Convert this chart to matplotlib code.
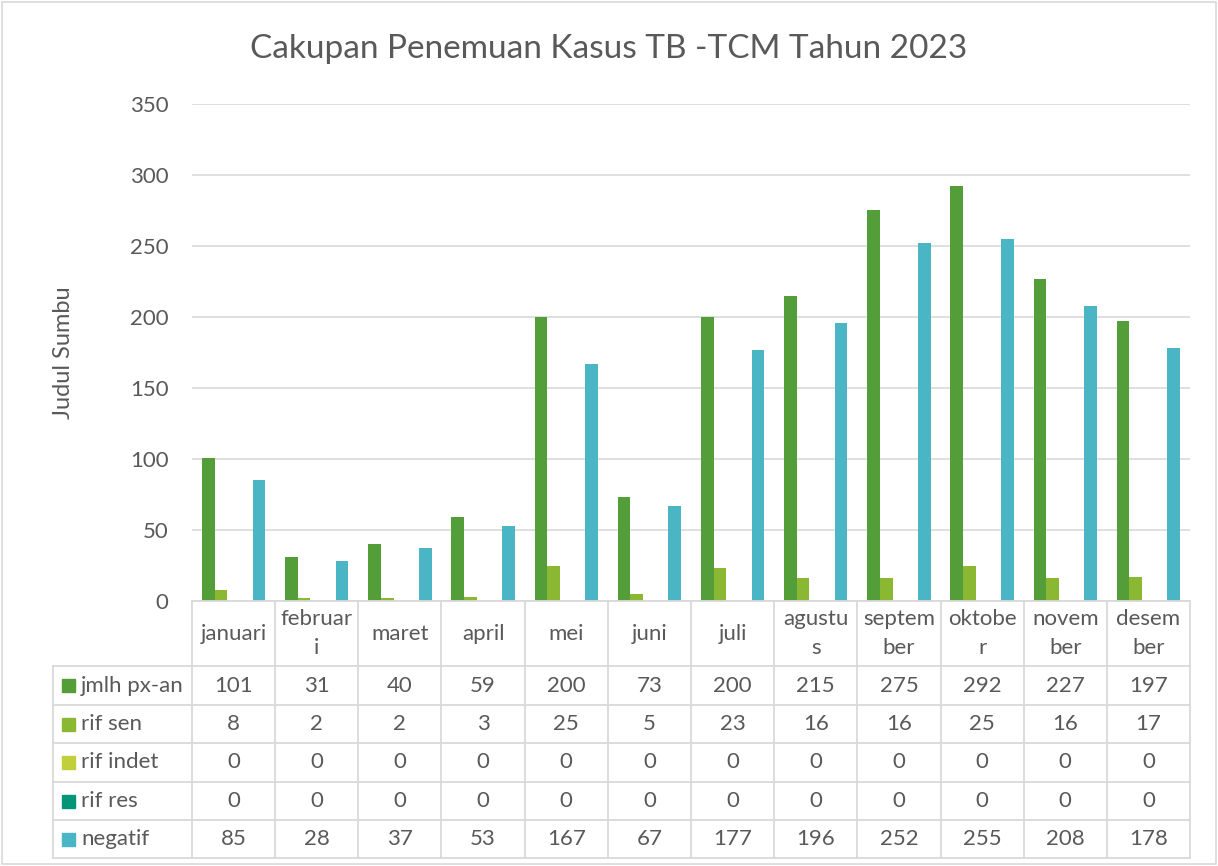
import numpy as np
import matplotlib.pyplot as plt
from matplotlib.patches import Rectangle
from matplotlib.lines import Line2D

months = ["januari", "februar\ni", "maret", "april", "mei", "juni", "juli",
          "agustu\ns", "septem\nber", "oktobe\nr", "novem\nber", "desem\nber"]
series_names = ["jmlh px-an", "rif sen", "rif indet", "rif res", "negatif"]
jmlh_px_an = [101, 31, 40, 59, 200, 73, 200, 215, 275, 292, 227, 197]
rif_sen = [8, 2, 2, 3, 25, 5, 23, 16, 16, 25, 16, 17]
rif_indet = [0] * 12
rif_res = [0] * 12
negatif = [85, 28, 37, 53, 167, 67, 177, 196, 252, 255, 208, 178]
colors = ["#549E39", "#8AB833", "#C0CF3A", "#029676", "#4AB5C4"]

W, H = 1218, 866
TXT = "#595959"
GRID = "#D9D9D9"
FS = 16
plt.rcParams["font.family"] = ["Lato", "DejaVu Sans"]

fig = plt.figure(figsize=(W / 100, H / 100), dpi=100)


def fx(px):
    return px / W


def fy(py):
    return 1 - py / H


# plot area in pixels
L, R, T, B = 192, 1190, 104, 601
ax = fig.add_axes([fx(L), fy(B), fx(R) - fx(L), fy(T) - fy(B)])

data = [jmlh_px_an, rif_sen, rif_indet, rif_res, negatif]
x = np.arange(len(months))
bw = 0.152
for i, (vals, c) in enumerate(zip(data, colors)):
    ax.bar(x + (i - 2) * bw, vals, width=bw, color=c, zorder=3)

ax.set_xlim(-0.5, len(months) - 0.5)
ax.set_ylim(0, 350)
ax.set_yticks(range(0, 351, 50))
ax.tick_params(axis="y", length=0, labelsize=FS, labelcolor=TXT, pad=17)
ax.set_xticks([])
ax.grid(axis="y", color=GRID, linewidth=1.2, zorder=0)
for s in ax.spines.values():
    s.set_visible(False)
ax.set_ylabel("Judul Sumbu", fontsize=17, color=TXT, labelpad=40)

fig.text(0.5, fy(49), "Cakupan Penemuan Kasus TB -TCM Tahun 2023",
         ha="center", va="center", fontsize=24, color=TXT)

# data table below the axis
col_w = (R - L) / len(months)
row_y = [601, 666, 705, 743, 782, 820, 858]
TL = 53
lw = 1.3


def hline(y, x0, x1):
    fig.add_artist(Line2D([fx(x0), fx(x1)], [fy(y), fy(y)], color=GRID, lw=lw))


def vline(xp, y0, y1):
    fig.add_artist(Line2D([fx(xp), fx(xp)], [fy(y0), fy(y1)], color=GRID, lw=lw))


hline(row_y[0], L, R)
for y in row_y[1:]:
    hline(y, TL, R)
vline(TL, row_y[1], row_y[-1])
for k in range(len(months) + 1):
    vline(L + k * col_w, row_y[0], row_y[-1])

for k, m in enumerate(months):
    fig.text(fx(L + (k + 0.5) * col_w), fy((row_y[0] + row_y[1]) / 2), m,
             ha="center", va="center", fontsize=FS, color=TXT, linespacing=1.55)

for r, (name, vals, c) in enumerate(zip(series_names, data, colors)):
    yc = (row_y[r + 1] + row_y[r + 2]) / 2
    fig.add_artist(Rectangle((fx(62), fy(yc + 6.5)), fx(13), 13 / H,
                             color=c, transform=fig.transFigure))
    fig.text(fx(81), fy(yc), name, ha="left", va="center", fontsize=FS, color=TXT)
    for k, v in enumerate(vals):
        fig.text(fx(L + (k + 0.5) * col_w), fy(yc), str(v),
                 ha="center", va="center", fontsize=FS, color=TXT)

# chart border
fig.add_artist(Rectangle((fx(2), fy(864)), fx(1214), 862 / H, fill=False,
                         edgecolor=GRID, lw=1.2, transform=fig.transFigure))

fig.savefig("out.png", dpi=100)
